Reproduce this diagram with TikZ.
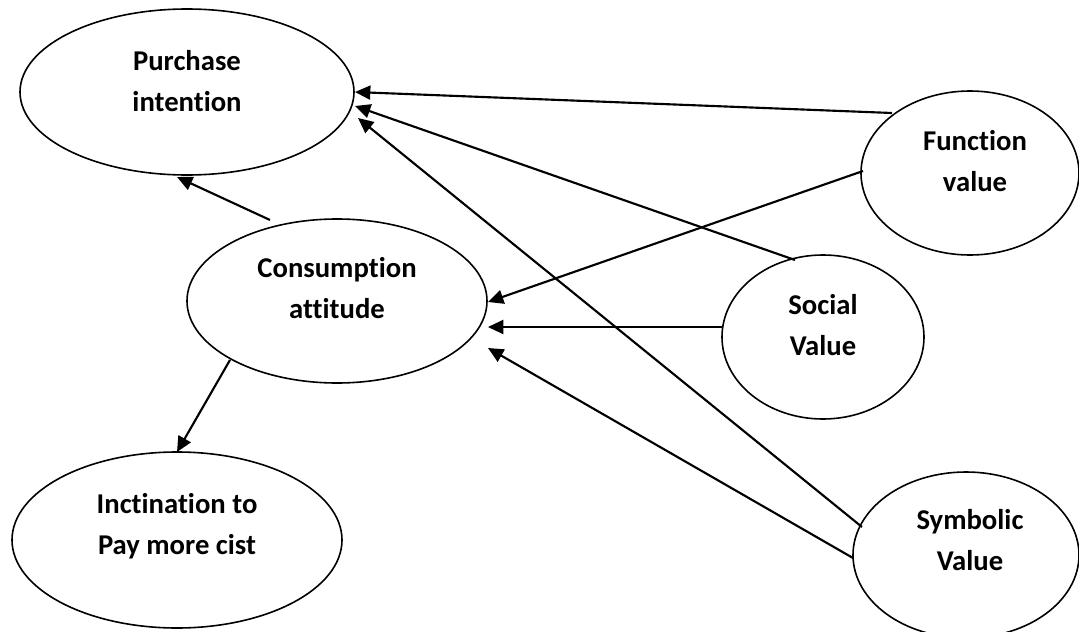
\documentclass[tikz,border=0pt]{standalone}
\usepackage{fontspec}
\setmainfont[Ligatures=NoCommon]{Carlito}
\usetikzlibrary{shapes.geometric,arrows.meta,calc}
\begin{document}
\begin{tikzpicture}[x=0.75pt,y=-0.75pt,
  oval/.style={draw=black,line width=1.2pt,ellipse,inner sep=0pt},
  lbl/.style={align=center,inner sep=0pt,font=\fontsize{21.5pt}{30.75pt}\selectfont\bfseries},
  conn/.style={line width=1.6pt,-{Triangle[length=11.5pt,width=10.5pt]}}]
\useasboundingbox (0,0) rectangle (1079,632);
% ellipses
\node[oval,minimum width=250.5pt,minimum height=124.5pt] (pi) at (187,92) {};
\node[oval,minimum width=225pt,minimum height=123pt] (ca) at (337,301) {};
\node[oval,minimum width=247.5pt,minimum height=132pt] (in) at (177,540) {};
\node[oval,minimum width=163.5pt,minimum height=123pt] (fv) at (970,173) {};
\node[oval,minimum width=151.5pt,minimum height=123pt] (sv) at (823,337) {};
\node[oval,minimum width=169.5pt,minimum height=124.5pt] (sy) at (966,555) {};
% texts
\node[lbl] (pit) at (187,81) {Purchase\\intention};
\node[lbl] (cat) at (337,288) {Consumption\\attitude};
\node[lbl] (int) at (177,526) {Inctination to\\Pay more cist};
\node[lbl] (fvt) at (975,161) {Function\\value};
\node[lbl] (svt) at (823,325) {Social\\Value};
\node[lbl] (syt) at (970,540) {Symbolic\\Value};
% connectors
\draw[conn] ($(fv.center)+(-78,-60)$) -- ($(pi.center)+(168,0)$);
\draw[conn] ($(sv.center)+(-28,-77)$) -- ($(pi.center)+(168,14)$);
\draw[conn] ($(sy.center)+(-104,-28)$) -- ($(pi.center)+(171,26)$);
\draw[conn] ($(ca.center)+(-67,-81)$) -- ($(pi.center)+(-10,85)$);
\draw[conn] ($(fv.center)+(-107,-2)$) -- ($(ca.center)+(151,1)$);
\draw[conn] ($(sv.center)+(-101,-10)$) -- ($(ca.center)+(151,26)$);
\draw[conn] ($(sy.center)+(-113,3)$) -- ($(ca.center)+(151,47)$);
\draw[conn] ($(ca.center)+(-107,59)$) -- ($(in.center)+(0,-88)$);
\end{tikzpicture}
\end{document}
